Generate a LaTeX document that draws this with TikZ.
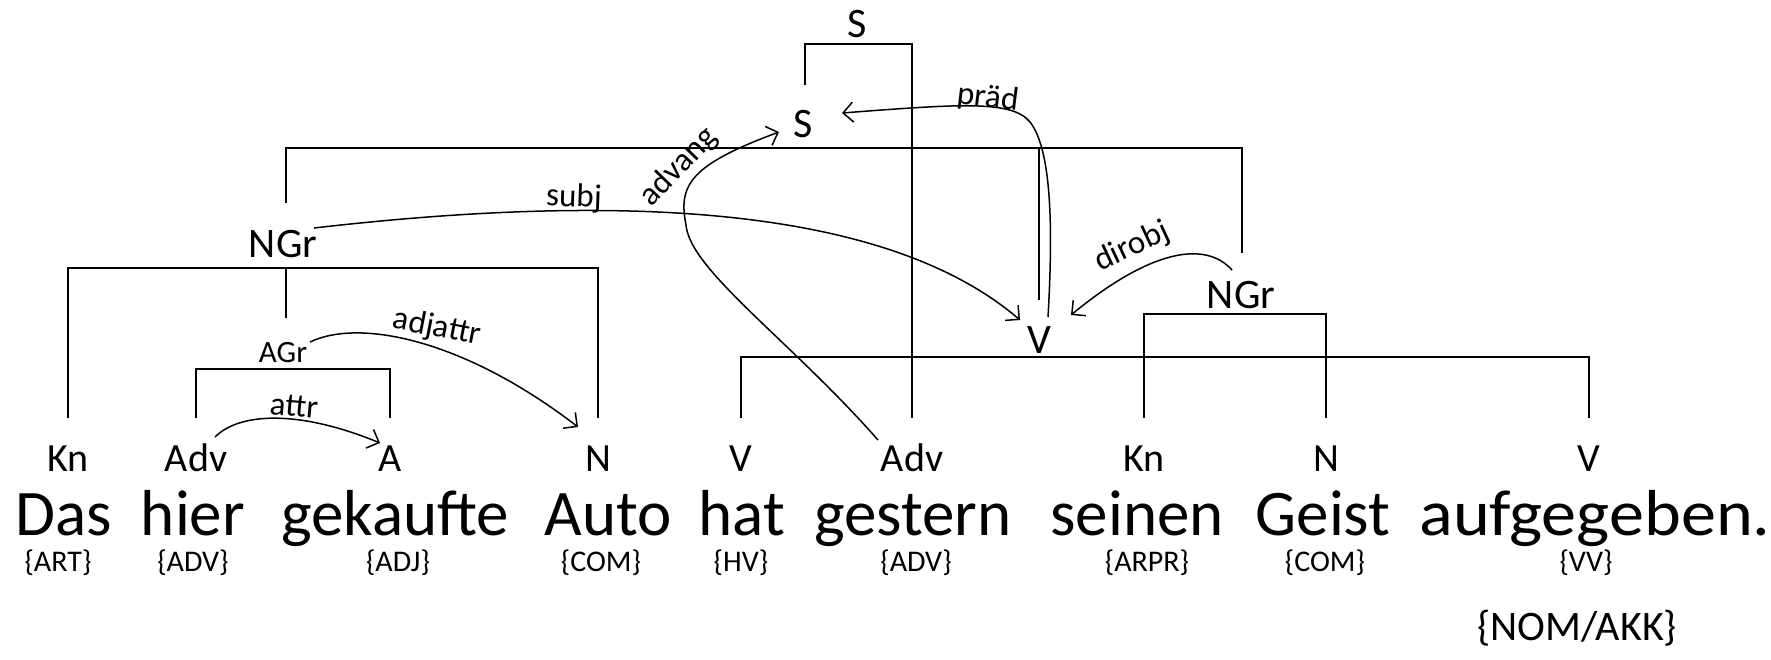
\documentclass[tikz,border=0pt]{standalone}
\usepackage{fontspec}
\setmainfont{Carlito}
\usetikzlibrary{arrows.meta}
\begin{document}
\begin{tikzpicture}[x=0.5pt,y=-0.5pt,
  word/.style={font=\fontsize{32.5}{38}\selectfont,anchor=base,inner sep=0pt},
  cat/.style={font=\fontsize{20}{24}\selectfont,anchor=base,inner sep=0pt},
  phr/.style={font=\fontsize{21}{25}\selectfont,anchor=base,inner sep=0pt},
  smallphr/.style={font=\fontsize{15.5}{18}\selectfont,anchor=base,inner sep=0pt},
  tag/.style={font=\fontsize{15}{18}\selectfont,inner sep=0pt},
  bigtag/.style={font=\fontsize{21}{25}\selectfont,inner sep=0pt},
  rel/.style={font=\fontsize{16.5}{20}\selectfont,inner sep=0pt},
  tree/.style={line width=1pt},
  dep/.style={line width=0.75pt,-{Straight Barb[length=5pt,width=10pt]}},
]
\fill[white] (0,0) rectangle (1771,659);
\useasboundingbox (0,0) rectangle (1771,659);

% words
\node[word] (w1) at (64,535) {Das};
\node[word] (w2) at (193,535) {hier};
\node[word] (w3) at (395,535) {gekaufte};
\node[word] (w4) at (608,535) {Auto};
\node[word] (w5) at (742,535) {hat};
\node[word] (w6) at (913,535) {gestern};
\node[word] (w7) at (1137,535) {seinen};
\node[word] (w8) at (1323,535) {Geist};
\node[word,xscale=1.08] (w9) at (1595,535) {aufgegeben.};

% tags
\node[tag] (g1) at (58,563) {\{ART\}};
\node[tag] (g2) at (193,563) {\{ADV\}};
\node[tag] (g3) at (398,563) {\{ADJ\}};
\node[tag] (g4) at (601,563) {\{COM\}};
\node[tag] (g5) at (741,563) {\{HV\}};
\node[tag] (g6) at (916,563) {\{ADV\}};
\node[tag] (g7) at (1147,563) {\{ARPR\}};
\node[tag] (g8) at (1325,563) {\{COM\}};
\node[tag] (g9) at (1586,563) {\{VV\}};
\node[bigtag] (nomakk) at (1577,628) {\{NOM/AKK\}};

% categories
\node[cat] (c1) at (68,471) {Kn};
\node[cat] (c2) at (196,471) {Adv};
\node[cat] (c3) at (390,471) {A};
\node[cat] (c4) at (598,471) {N};
\node[cat] (c5) at (741,471) {V};
\node[cat] (c6) at (912,471) {Adv};
\node[cat] (c7) at (1144,471) {Kn};
\node[cat] (c8) at (1326,471) {N};
\node[cat] (c9) at (1589,471) {V};

% phrase nodes
\node[phr] (stop) at (857,37) {S};
\node[phr] (slow) at (803,137) {S};
\node[phr] (ngrl) at (283,257) {NGr};
\node[smallphr] (agr) at (283,362) {AGr};
\node[phr] (vv) at (1039,353) {V};
\node[phr] (ngrr) at (1241,308) {NGr};

% tops of category labels
\foreach \i in {1,...,9} {\coordinate (t\i) at ([yshift=26.5pt]c\i.base);}
\coordinate (slowtop) at (805,85);
\coordinate (ngrltop) at (286,203);
\coordinate (ngrrtop) at (1242,253);
\coordinate (vvtop) at (1039,300);
\coordinate (agrtop) at (286,318);

% tree brackets
\draw[tree] (slowtop) |- (857,44) -| (t6);
\draw[tree] (ngrltop) |- (700,148) -| (ngrrtop);
\draw[tree] (vvtop) -- (vvtop |- 0,148);
\draw[tree] (t1) |- (300,268) -| (t4);
\draw[tree] (agrtop) -- (agrtop |- 0,268);
\draw[tree] (t2) |- (290,369) -| (t3);
\draw[tree] (t5) |- (1000,357) -| (t9);
\draw[tree] (t7) |- (1240,314) -| (t8);

% dependency arcs
\coordinate (attrS) at (215,437);
\coordinate (attrE) at (380,443);
\draw[dep] (attrS) .. controls (240,412) and (300,410) .. (attrE);
\node[rel,rotate=-5] (lattr) at (294,406) {attr};

\coordinate (adjS) at (310,342);
\coordinate (adjE) at (578,427);
\draw[dep] (adjS) .. controls (360,318) and (465,340) .. (adjE);
\node[rel,rotate=-11] (ladj) at (437,328) {adjattr};

\coordinate (subjS) at (314,228);
\coordinate (subjE) at (1020,320);
\draw[dep] (subjS) .. controls (600,195) and (880,200) .. (subjE);
\node[rel,rotate=-2] (lsubj) at (574,198) {subj};

\coordinate (pradS) at (1048,317);
\coordinate (pradM) at (1030,122);
\coordinate (pradE) at (842,113);
\draw[dep] (pradS) .. controls (1053,230) and (1052,150) .. (pradM)
  .. controls (1012,100) and (960,104) .. (pradE);
\node[rel,rotate=-7] (lprad) at (988,98) {präd};

\coordinate (advS) at (878,440);
\coordinate (advM) at (686,225);
\coordinate (advE) at (779,132);
\draw[dep] (advS) .. controls (790,340) and (690,270) .. (advM)
  .. controls (678,185) and (690,165) .. (advE);
\node[rel,rotate=46] (ladv) at (679,167) {advang};

\coordinate (dirS) at (1232,270);
\coordinate (dirE) at (1071,315);
\draw[dep] (dirS) .. controls (1205,240) and (1150,250) .. (dirE);
\node[rel,rotate=25] (ldir) at (1132,247) {dirobj};
\end{tikzpicture}
\end{document}
